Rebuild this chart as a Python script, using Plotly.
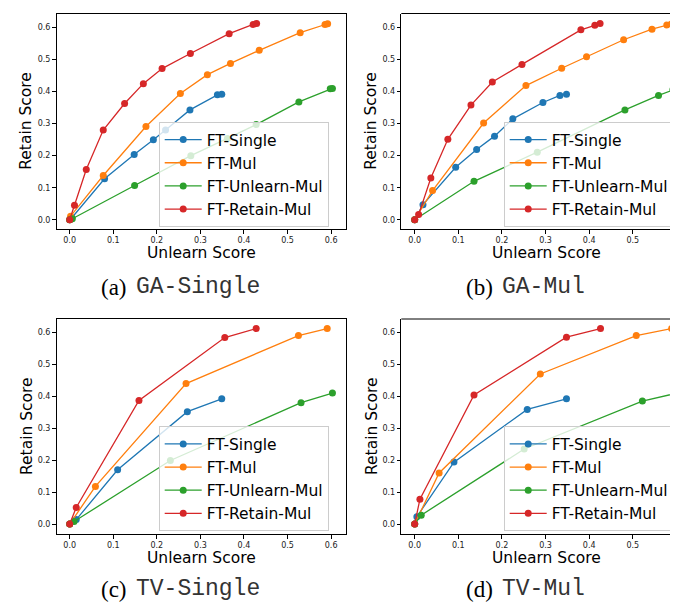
import plotly.graph_objects as go

W, H = 678, 605

series_names = ["FT-Single", "FT-Mul", "FT-Unlearn-Mul", "FT-Retain-Mul"]
colors = ["#1f77b4", "#ff7f0e", "#2ca02c", "#d62728"]

# (a) GA-Single
a_single_x = [0, 0.005, 0.080, 0.148, 0.192, 0.220, 0.276, 0.339, 0.349]
a_single_y = [0, 0.006, 0.128, 0.204, 0.250, 0.280, 0.343, 0.390, 0.392]
a_mul_x = [0, 0.002, 0.077, 0.175, 0.254, 0.316, 0.369, 0.435, 0.529, 0.586, 0.592]
a_mul_y = [0, 0.011, 0.138, 0.291, 0.394, 0.453, 0.488, 0.529, 0.584, 0.610, 0.612]
a_unl_x = [0, 0.006, 0.149, 0.278, 0.362, 0.428, 0.526, 0.598, 0.603]
a_unl_y = [0, 0.003, 0.107, 0.200, 0.254, 0.297, 0.368, 0.409, 0.410]
a_ret_x = [0, 0.011, 0.038, 0.077, 0.126, 0.169, 0.212, 0.277, 0.366, 0.421, 0.429]
a_ret_y = [0, 0.045, 0.157, 0.280, 0.363, 0.425, 0.472, 0.519, 0.581, 0.610, 0.613]

# (b) GA-Mul
b_single_x = [0, 0.019, 0.094, 0.142, 0.183, 0.225, 0.294, 0.333, 0.348]
b_single_y = [0, 0.047, 0.164, 0.219, 0.261, 0.315, 0.366, 0.388, 0.392]
b_mul_x = [0, 0.041, 0.158, 0.255, 0.337, 0.394, 0.479, 0.544, 0.578, 0.588]
b_mul_y = [0, 0.091, 0.302, 0.419, 0.473, 0.509, 0.562, 0.595, 0.608, 0.611]
b_unl_x = [0, 0.136, 0.281, 0.482, 0.559, 0.592, 0.602]
b_unl_y = [0, 0.120, 0.211, 0.343, 0.388, 0.406, 0.410]
b_ret_x = [0, 0.009, 0.037, 0.076, 0.129, 0.178, 0.246, 0.381, 0.413, 0.425]
b_ret_y = [0, 0.016, 0.130, 0.251, 0.358, 0.430, 0.485, 0.593, 0.607, 0.613]

# (c) TV-Single
c_single_x = [0, 0.015, 0.110, 0.270, 0.349]
c_single_y = [0, 0.014, 0.170, 0.352, 0.392]
c_mul_x = [0, 0.059, 0.267, 0.525, 0.591]
c_mul_y = [0, 0.118, 0.440, 0.590, 0.612]
c_unl_x = [0, 0.010, 0.231, 0.531, 0.603]
c_unl_y = [0, 0.008, 0.199, 0.380, 0.410]
c_ret_x = [0, 0.015, 0.159, 0.356, 0.428]
c_ret_y = [0, 0.052, 0.387, 0.584, 0.612]

# (d) TV-Mul
d_single_x = [0, 0.005, 0.090, 0.258, 0.348]
d_single_y = [0, 0.023, 0.194, 0.359, 0.392]
d_mul_x = [0, 0.056, 0.288, 0.508, 0.589]
d_mul_y = [0, 0.160, 0.470, 0.590, 0.612]
d_unl_x = [0, 0.015, 0.251, 0.522, 0.602]
d_unl_y = [0, 0.028, 0.235, 0.385, 0.410]
d_ret_x = [0, 0.012, 0.136, 0.348, 0.426]
d_ret_y = [0, 0.078, 0.404, 0.585, 0.612]

tick_vals = [0.0, 0.1, 0.2, 0.3, 0.4, 0.5, 0.6]
tick_text = ["0.0", "0.1", "0.2", "0.3", "0.4", "0.5", "0.6"]

x_title = "Unlearn Score"
y_title = "Retain Score"
caption_prefix = ["(a)", "(b)", "(c)", "(d)"]
caption_names = ["GA-Single", "GA-Mul", "TV-Single", "TV-Mul"]

panels = [
    [(a_single_x, a_single_y), (a_mul_x, a_mul_y), (a_unl_x, a_unl_y), (a_ret_x, a_ret_y)],
    [(b_single_x, b_single_y), (b_mul_x, b_mul_y), (b_unl_x, b_unl_y), (b_ret_x, b_ret_y)],
    [(c_single_x, c_single_y), (c_mul_x, c_mul_y), (c_unl_x, c_unl_y), (c_ret_x, c_ret_y)],
    [(d_single_x, d_single_y), (d_mul_x, d_mul_y), (d_unl_x, d_unl_y), (d_ret_x, d_ret_y)],
]

# layout geometry in pixels
px_left = [48.5, 393.3, 48.5, 393.3]
px_right = [337.5, 678, 337.5, 678]
px_top = [5.5, 5.5, 311, 311]
px_bottom = [221, 221, 526, 526]
xranges = [[-0.0303, 0.633], [-0.0307, 0.622], [-0.0303, 0.633], [-0.0307, 0.622]]
yranges = [[-0.029, 0.644], [-0.029, 0.644], [-0.031, 0.642], [-0.031, 0.642]]
legend_left = [150.7, 495.7, 150.7, 495.7]
legend_top = [114, 114, 418.3, 418.3]
xt_x = [193, 538, 193, 538]
xt_y = [245, 245, 550, 550]
yt_x = [18.5, 363.5, 18.5, 363.5]
cap_y = [279, 279, 581, 581]
cap_split = [121, 487, 121, 487]

fig = go.Figure()
layout = dict(
    width=W, height=H,
    margin=dict(l=0, r=0, t=0, b=0),
    paper_bgcolor="white", plot_bgcolor="white",
    font=dict(family="DejaVu Sans", color="black"),
    shapes=[], annotations=[],
)

for i, panel in enumerate(panels):
    suf = "" if i == 0 else str(i + 1)
    lg = "legend" if i == 0 else f"legend{i+1}"
    for j, (xs, ys) in enumerate(panel):
        fig.add_trace(go.Scatter(
            x=xs, y=ys, mode="lines+markers", name=series_names[j],
            line=dict(color=colors[j], width=1.3),
            marker=dict(color=colors[j], size=7),
            xaxis="x" + suf, yaxis="y" + suf, legend=lg,
        ))
    mirror = i in (0, 2)
    common = dict(
        showgrid=False, zeroline=False, showline=True, linecolor="black", linewidth=1,
        mirror=mirror, ticks="outside", ticklen=3.5, tickwidth=0.8, tickcolor="black",
        tickvals=tick_vals, ticktext=tick_text,
        tickfont=dict(size=8, color="#222222", family="DejaVu Sans"),
        automargin=False,
    )
    layout["xaxis" + suf] = dict(
        common, domain=[px_left[i] / W, px_right[i] / W], range=xranges[i],
        anchor="y" + suf,
    )
    layout["yaxis" + suf] = dict(
        common, domain=[1 - px_bottom[i] / H, 1 - px_top[i] / H], range=yranges[i],
        anchor="x" + suf,
    )
    if not mirror:
        layout["shapes"].append(dict(
            type="line", xref=f"x{suf} domain", yref=f"y{suf} domain",
            x0=0, x1=1, y0=1, y1=1, line=dict(color="black", width=1),
        ))
    layout[lg] = dict(
        x=legend_left[i] / W, y=1 - legend_top[i] / H,
        xanchor="left", yanchor="top",
        bgcolor="rgba(255,255,255,0.8)", bordercolor="#cccccc", borderwidth=1,
        font=dict(size=15.5, family="DejaVu Sans"),
        tracegroupgap=0, itemwidth=37,
    )
    layout["annotations"].append(dict(
        text=x_title, xref="paper", yref="paper",
        x=xt_x[i] / W, y=1 - xt_y[i] / H, xanchor="center", yanchor="middle",
        showarrow=False, font=dict(family="DejaVu Sans", size=15.5, color="black"),
    ))
    layout["annotations"].append(dict(
        text=y_title, xref="paper", yref="paper", textangle=-90,
        x=yt_x[i] / W, y=1 - (px_top[i] + px_bottom[i]) / 2 / H,
        xanchor="center", yanchor="middle",
        showarrow=False, font=dict(family="DejaVu Sans", size=15.5, color="black"),
    ))
    layout["annotations"].append(dict(
        text=caption_prefix[i], xref="paper", yref="paper",
        x=cap_split[i] / W, y=1 - cap_y[i] / H, xanchor="right", yanchor="middle",
        showarrow=False, font=dict(family="Liberation Serif", size=23, color="black"),
    ))
    layout["annotations"].append(dict(
        text=caption_names[i], xref="paper", yref="paper",
        x=(cap_split[i] + 5) / W, y=1 - cap_y[i] / H, xanchor="left", yanchor="middle",
        showarrow=False, font=dict(family="Liberation Mono", size=23, color="#333333"),
    ))

fig.update_layout(**layout)
fig.write_html("out.html")
